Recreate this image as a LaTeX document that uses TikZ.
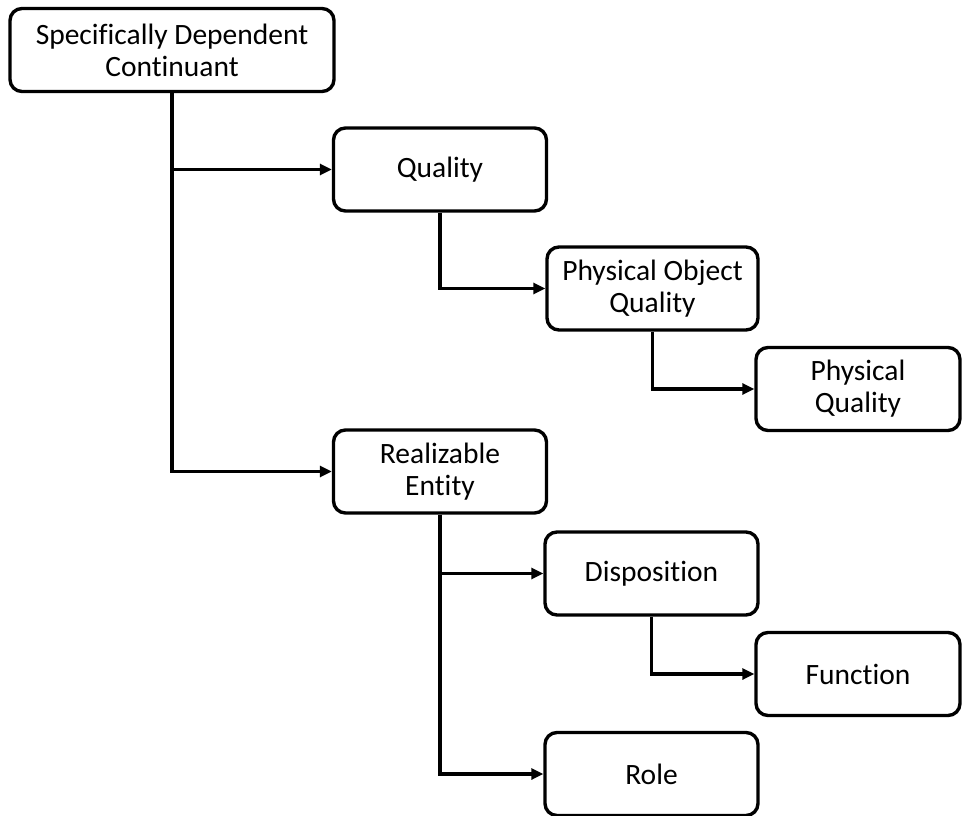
\documentclass[tikz,border=0pt]{standalone}
\usepackage{fontspec}
\setmainfont{Carlito}[Ligatures=NoCommon, RawFeature=-liga]
\usetikzlibrary{arrows.meta}
\begin{document}
\begin{tikzpicture}[x=1pt,y=-1pt,
  box/.style={draw=black, line width=3.4pt, rounded corners=12pt, fill=white,
    align=center, inner sep=0pt, minimum height=83pt,
    font=\fontsize{29.5}{32}\selectfont},
  link/.style={draw=black, line width=3.4pt, -{Triangle[length=12pt,width=11pt]}}]
\useasboundingbox (0,0) rectangle (962,816);
% class boxes
\node[box, minimum width=324pt] (sdc) at (172,50) {Specifically Dependent\\Continuant};
\node[box, minimum width=213pt] (qual) at (440,169.5) {Quality};
\node[box, minimum width=211pt] (poq) at (652.5,288.5) {Physical Object\\Quality};
\node[box, minimum width=204pt] (pq) at (858,389) {Physical\\Quality};
\node[box, minimum width=213pt] (real) at (440,471.5) {Realizable\\Entity};
\node[box, minimum width=213pt] (disp) at (651.5,573.5) {Disposition};
\node[box, minimum width=204pt] (func) at (858,674) {Function};
\node[box, minimum width=213pt] (role) at (651.5,774) {Role};
% subclass links
\draw[link] (sdc.south) |- (qual.west);
\draw[link] (sdc.south) |- (real.west);
\draw[link] (qual.south) |- (poq.west);
\draw[link] (poq.south) |- (pq.west);
\draw[link] (real.south) |- (disp.west);
\draw[link] (real.south) |- (role.west);
\draw[link] (disp.south) |- (func.west);
\end{tikzpicture}
\end{document}
